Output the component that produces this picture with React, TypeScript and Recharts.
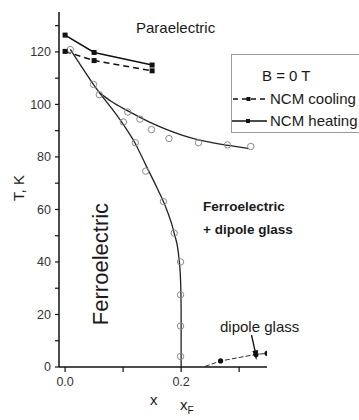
import React from 'react';
import { ComposedChart, Line, Scatter, XAxis, YAxis } from 'recharts';

// NCM transition points (filled squares)
const heatingX = [0, 0.05, 0.15];
const heatingT = [126.4, 119.8, 115];
const coolingX = [0, 0.05, 0.15];
const coolingT = [120.2, 116.7, 112.8];

// measured points (open circles)
const circleX = [0.009, 0.049, 0.059, 0.1005, 0.108, 0.121, 0.129, 0.139, 0.149, 0.1695, 0.179, 0.188, 0.199, 0.199, 0.199, 0.199, 0.23, 0.28, 0.32];
const circleT = [120.9, 107.6, 103.7, 93.3, 97.1, 85.4, 94.4, 74.6, 90.4, 63, 87, 51, 40, 27.5, 15.6, 4, 85.4, 84.6, 84];

// ferroelectric boundary (guide line)
const ferroX = [0.2, 0.2, 0.199, 0.196, 0.188, 0.175, 0.16, 0.14, 0.12, 0.1, 0.05, 0.009];
const ferroT = [0, 22, 33, 42, 51, 60, 67.5, 76.5, 85.5, 92.5, 107.3, 121];

// paraelectric / glass boundary (guide line)
const glassX = [0.06, 0.08, 0.105, 0.13, 0.155, 0.18, 0.2, 0.23, 0.26, 0.29, 0.316];
const glassT = [104.3, 101.1, 97.9, 95, 92.3, 90, 88.4, 86.5, 85.2, 84.1, 83.2];

// dipole glass points
const dipoleX = [0.241, 0.268, 0.329, 0.348];
const dipoleT = [0.2, 2.3, 4.8, 5.2];

const xTicks = [0, 0.1, 0.2, 0.3];
const xTickLabels: Record<string, string> = { '0': '0.0', '0.2': '0.2' };
const yTicks = [0, 10, 20, 30, 40, 50, 60, 70, 80, 90, 100, 110, 120, 130];

const zip = (xs: number[], ts: number[]) => xs.map((x, i) => ({ x, t: ts[i] }));

const heating = zip(heatingX, heatingT);
const cooling = zip(coolingX, coolingT);
const circles = zip(circleX, circleT);
const ferro = zip(ferroX, ferroT);
const glass = zip(glassX, glassT);
const dipole = zip(dipoleX, dipoleT);

const FONT = '"Liberation Sans", Arial, sans-serif';

const square = (p: any) => (
  <rect key={`sq-${p.index}`} x={p.cx - 2.5} y={p.cy - 2.5} width={5} height={5} fill="#111" />
);

const dipoleDot = (p: any) =>
  p.index === 0 ? (
    <g key={`dg-${p.index}`} />
  ) : (
    <circle key={`dg-${p.index}`} cx={p.cx} cy={p.cy} r={2.6} fill="#111" />
  );

const openCircle = (p: any) => (
  <circle cx={p.cx} cy={p.cy} r={3.2} fill="none" stroke="#8a8a8a" strokeWidth={1} />
);

const label = (style: React.CSSProperties, text: React.ReactNode) => (
  <div style={{ position: 'absolute', fontFamily: FONT, color: '#1a1a1a', whiteSpace: 'nowrap', lineHeight: 1, ...style }}>
    {text}
  </div>
);

export default function App() {
  return (
    <div style={{ position: 'absolute', left: 0, top: 0, width: 359, height: 420, overflow: 'hidden', background: '#fff' }}>
      <ComposedChart width={359} height={420} margin={{ top: 12, right: 92, bottom: 33, left: 0 }}>
        <XAxis
          type="number"
          dataKey="x"
          domain={[-0.0105, 0.348]}
          allowDataOverflow
          ticks={xTicks}
          tickFormatter={(v: number) => xTickLabels[String(v)] ?? ''}
          height={20}
          tickSize={5}
          tickMargin={5}
          axisLine={{ stroke: '#111', strokeWidth: 1.5 }}
          tickLine={{ stroke: '#111', strokeWidth: 1.2 }}
          tick={{ fontSize: 12.5, fill: '#333', fontFamily: FONT }}
        />
        <YAxis
          type="number"
          dataKey="t"
          domain={[0, 135.2]}
          allowDataOverflow
          ticks={yTicks}
          tickFormatter={(v: number) => (v % 20 === 0 && v <= 120 ? String(v) : '')}
          width={59}
          tickSize={4}
          tickMargin={4}
          axisLine={{ stroke: '#111', strokeWidth: 1.5 }}
          tickLine={{ stroke: '#111', strokeWidth: 1.2 }}
          tick={{ fontSize: 12.5, fill: '#333', fontFamily: FONT }}
        />
        <Line data={ferro} dataKey="t" type="monotone" stroke="#222" strokeWidth={1.3} dot={false} isAnimationActive={false} />
        <Line data={glass} dataKey="t" type="monotone" stroke="#222" strokeWidth={1.3} dot={false} isAnimationActive={false} />
        <Scatter data={circles} dataKey="t" shape={openCircle} isAnimationActive={false} />
        <Line data={heating} dataKey="t" type="linear" stroke="#111" strokeWidth={1.5} dot={square} isAnimationActive={false} />
        <Line data={cooling} dataKey="t" type="linear" stroke="#111" strokeWidth={1.5} strokeDasharray="6 4" dot={square} isAnimationActive={false} />
        <Line data={dipole} dataKey="t" type="linear" stroke="#333" strokeWidth={1} strokeDasharray="5 2" dot={dipoleDot} isAnimationActive={false} />
      </ComposedChart>

      {/* annotations */}
      {label({ left: 136, top: 20, fontSize: 15 }, 'Paraelectric')}
      {label({ left: 203, top: 195, fontSize: 13.5, fontWeight: 'bold', lineHeight: '23px' }, <>Ferroelectric<br />+ dipole glass</>)}
      {label({ left: 220, top: 319, fontSize: 15 }, 'dipole glass')}
      {label({ left: 101, top: 264, fontSize: 22, transform: 'translate(-50%, -50%) rotate(-90deg)' }, 'Ferroelectric')}
      {label({ left: 18, top: 188, fontSize: 15, transform: 'translate(-50%, -50%) rotate(-90deg)' }, 'T, K')}
      {label({ left: 150, top: 392, fontSize: 15 }, 'x')}
      {label({ left: 180, top: 397, fontSize: 15 }, <>x<sub style={{ fontSize: 10 }}>F</sub></>)}

      <svg style={{ position: 'absolute', left: 0, top: 0 }} width={359} height={420}>
        <line x1={251.5} y1={335} x2={255.3} y2={352} stroke="#111" strokeWidth={1.3} />
        <polygon points="252.4,351 258.2,350 256.3,360" fill="#111" />
      </svg>

      {/* legend */}
      <div style={{ position: 'absolute', left: 231, top: 54, width: 160, height: 77, border: '1px solid #9a9a9a', background: '#fff' }} />
      {label({ left: 262, top: 68, fontSize: 15 }, 'B = 0 T')}
      {label({ left: 270, top: 91, fontSize: 15 }, 'NCM cooling')}
      {label({ left: 270, top: 113, fontSize: 15 }, 'NCM heating')}
      <svg style={{ position: 'absolute', left: 0, top: 0 }} width={359} height={420}>
        <line x1={233} y1={99} x2={267} y2={99} stroke="#111" strokeWidth={1.3} strokeDasharray="5 4" />
        <rect x={246.5} y={97} width={4} height={4} fill="#111" />
        <line x1={232} y1={121} x2={267} y2={121} stroke="#111" strokeWidth={1.3} />
        <rect x={246} y={119} width={4} height={4} fill="#111" />
      </svg>
    </div>
  );
}
